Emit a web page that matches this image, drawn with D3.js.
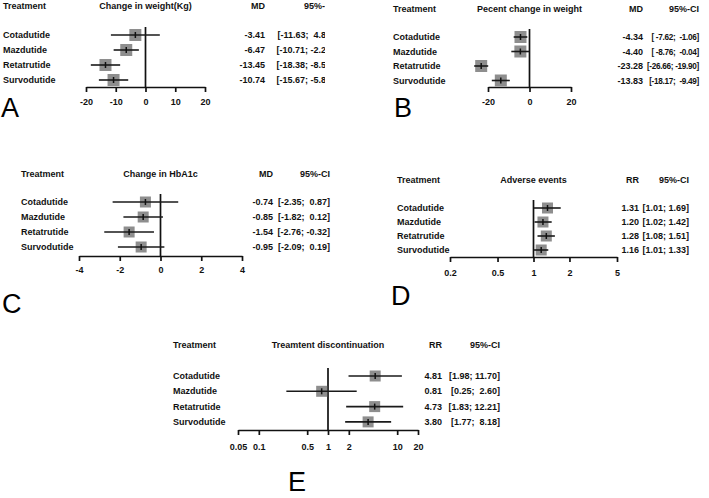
<!DOCTYPE html>
<html>
<head>
<meta charset="utf-8">
<script src="https://cdn.jsdelivr.net/npm/d3@7"></script>
<style>
  body { margin: 0; background: #fff; }
  svg { display: block; }
  svg text { font-family: "Liberation Sans", Arial, sans-serif; }
  .lbl { font-size: 9px; font-weight: bold; fill: #111; white-space: pre; }
  .big { font-size: 27px; fill: #000; }
</style>
</head>
<body>
<div id="chart"></div>
<script>
// Treatments (same order in every panel)
var treatments = ["Cotadutide", "Mazdutide", "Retatrutide", "Survodutide"];

// A: change in weight (kg)
var weightMD = [-3.41, -6.47, -13.45, -10.74];
var weightLo = [-11.63, -10.71, -18.38, -15.67];
var weightHi = [4.81, -2.23, -8.52, -5.81];
var weightTicks = [-20, -10, 0, 10, 20];

// B: percent change in weight
var pctMD = [-4.34, -4.40, -23.28, -13.83];
var pctLo = [-7.62, -8.76, -26.66, -18.17];
var pctHi = [-1.06, -0.04, -19.90, -9.49];
var pctTicks = [-20, 0, 20];

// C: change in HbA1c
var hbMD = [-0.74, -0.85, -1.54, -0.95];
var hbLo = [-2.35, -1.82, -2.76, -2.09];
var hbHi = [0.87, 0.12, -0.32, 0.19];
var hbTicks = [-4, -2, 0, 2, 4];

// D: adverse events (RR)
var aeRR = [1.31, 1.20, 1.28, 1.16];
var aeLo = [1.01, 1.02, 1.08, 1.01];
var aeHi = [1.69, 1.42, 1.51, 1.33];
var aeTicks = [0.2, 0.5, 1, 2, 5];

// E: treatment discontinuation (RR)
var discRR = [4.81, 0.81, 4.73, 3.80];
var discLo = [1.98, 0.25, 1.83, 1.77];
var discHi = [11.70, 2.60, 12.21, 8.18];
var discTicks = [0.05, 0.1, 0.5, 1, 2, 10, 20];

var svg = d3.select("#chart")
  .append("svg")
  .attr("width", 709)
  .attr("height", 498);

// panel A is cut off on the right in the original figure
svg.append("defs").append("clipPath")
  .attr("id", "clipA")
  .append("rect")
  .attr("x", -10).attr("y", -10).attr("width", 335).attr("height", 150);

// panel layout (pixel positions only)
var panels = [
  {letter: "A", title: "Change in weight(Kg)", stat: "MD", est: weightMD, lo: weightLo, hi: weightHi, ticks: weightTicks,
   log: false, domain: [-20, 20], range: [86, 205], labelX: 3, estX: 265, ciX: 334, ciSize: 9, box: 12,
   headY: 6, rowY: 35, step: 15, axisY: 87, tickY: 102, letterX: 1, letterY: 117, clip: "clipA"},
  {letter: "B", title: "Pecent change in weight", stat: "MD", est: pctMD, lo: pctLo, hi: pctHi, ticks: pctTicks,
   log: false, domain: [-20, 20], range: [488, 571], labelX: 393, estX: 643, ciX: 699, ciSize: 8.2, box: 12,
   headY: 9, rowY: 37, step: 14.5, axisY: 87, tickY: 102, letterX: 394, letterY: 117},
  {letter: "C", title: "Change in HbA1c", stat: "MD", est: hbMD, lo: hbLo, hi: hbHi, ticks: hbTicks,
   log: false, domain: [-4, 4], range: [79, 242], labelX: 21, estX: 273, ciX: 330, ciSize: 9, box: 11,
   headY: 174, rowY: 202, step: 15, axisY: 256, tickY: 270, letterX: 2, letterY: 313},
  {letter: "D", title: "Adverse events", stat: "RR", est: aeRR, lo: aeLo, hi: aeHi, ticks: aeTicks,
   log: true, domain: [0.2, 5], range: [450, 617], labelX: 397, estX: 639, ciX: 689, ciSize: 9, box: 11,
   headY: 180, rowY: 208, step: 14, axisY: 257, tickY: 273, letterX: 391, letterY: 305},
  {letter: "E", title: "Treamtent discontinuation", stat: "RR", est: discRR, lo: discLo, hi: discHi, ticks: discTicks,
   log: true, domain: [0.05, 20], range: [238, 418], labelX: 173, estX: 442, ciX: 500, ciSize: 9, box: 11,
   headY: 345, rowY: 376, step: 15.3, axisY: 430, tickY: 447, letterX: 288, letterY: 491}
];

var fmt = function(v) { return v.toFixed(2); };

panels.forEach(function(p) {
  var g = svg.append("g");
  if (p.clip) g.attr("clip-path", "url(#" + p.clip + ")");

  var x = (p.log ? d3.scaleLog() : d3.scaleLinear())
    .domain(p.domain)
    .range(p.range);
  var refVal = p.log ? 1 : 0;
  var y = function(i) { return p.rowY + i * p.step; };

  // header row
  svg.append("text").attr("class", "lbl").attr("x", p.labelX).attr("y", p.headY + 3).text("Treatment");
  g.append("text").attr("class", "lbl").attr("x", (p.range[0] + p.range[1]) / 2).attr("y", p.headY + 3)
    .attr("text-anchor", "middle").text(p.title);
  g.append("text").attr("class", "lbl").attr("x", p.estX).attr("y", p.headY + 3)
    .attr("text-anchor", "end").text(p.stat);
  g.append("text").attr("class", "lbl").attr("x", p.ciX).attr("y", p.headY + 3)
    .attr("text-anchor", "end").text("95%-CI");

  // reference line
  g.append("line")
    .attr("x1", x(refVal)).attr("x2", x(refVal))
    .attr("y1", p.rowY - 8).attr("y2", p.axisY)
    .attr("stroke", "#111").attr("stroke-width", 1.7);

  // axis
  var axis = d3.axisBottom(x)
    .tickValues(p.ticks)
    .tickFormat(function(d) { return String(d); })
    .tickSize(5)
    .tickSizeOuter(0)
    .tickPadding(p.tickY - p.axisY - 8);
  var ax = g.append("g")
    .attr("transform", "translate(0," + p.axisY + ")")
    .call(axis);
  ax.select(".domain").attr("stroke", "#111").attr("stroke-width", 1.7);
  ax.selectAll(".tick line").attr("stroke", "#111").attr("stroke-width", 1.7);
  ax.selectAll(".tick text")
    .attr("fill", "#111")
    .style("font-family", "'Liberation Sans', Arial, sans-serif")
    .style("font-size", "9px")
    .style("font-weight", "bold");

  var rows = treatments.map(function(t, i) {
    return {name: t, est: p.est[i], lo: p.lo[i], hi: p.hi[i], i: i};
  });

  var wLo = d3.max(rows, function(d) { return fmt(d.lo).length; });
  var wHi = d3.max(rows, function(d) { return fmt(d.hi).length; });

  // boxes
  g.selectAll(".box").data(rows).enter().append("rect")
    .attr("x", function(d) { return x(d.est) - p.box / 2; })
    .attr("y", function(d) { return y(d.i) - p.box / 2; })
    .attr("width", p.box).attr("height", p.box)
    .attr("fill", "#8e8e8e");

  // CI lines
  g.selectAll(".ci").data(rows).enter().append("line")
    .attr("x1", function(d) { return x(d.lo); })
    .attr("x2", function(d) { return x(d.hi); })
    .attr("y1", function(d) { return y(d.i); })
    .attr("y2", function(d) { return y(d.i); })
    .attr("stroke", "#1a1a1a").attr("stroke-width", 1.6);

  // estimate tick
  g.selectAll(".pt").data(rows).enter().append("line")
    .attr("x1", function(d) { return x(d.est); })
    .attr("x2", function(d) { return x(d.est); })
    .attr("y1", function(d) { return y(d.i) - 3; })
    .attr("y2", function(d) { return y(d.i) + 3; })
    .attr("stroke", "#111").attr("stroke-width", 1.5);

  // text columns
  g.selectAll(".name").data(rows).enter().append("text")
    .attr("class", "lbl")
    .attr("x", p.labelX)
    .attr("y", function(d) { return y(d.i) + 3; })
    .text(function(d) { return d.name; });

  g.selectAll(".est").data(rows).enter().append("text")
    .attr("class", "lbl")
    .attr("x", p.estX).attr("text-anchor", "end")
    .attr("y", function(d) { return y(d.i) + 3; })
    .text(function(d) { return fmt(d.est); });

  g.selectAll(".citext").data(rows).enter().append("text")
    .attr("class", "lbl")
    .style("font-size", p.ciSize + "px")
    .style("letter-spacing", p.ciSize < 9 ? "-0.3px" : null)
    .attr("x", p.ciX).attr("text-anchor", "end")
    .attr("y", function(d) { return y(d.i) + 3; })
    .text(function(d) {
      return "[" + fmt(d.lo).padStart(wLo) + "; " + fmt(d.hi).padStart(wHi) + "]";
    });

  // panel letter
  svg.append("text")
    .attr("class", "big")
    .attr("x", p.letterX).attr("y", p.letterY)
    .text(p.letter);
});
</script>
</body>
</html>
